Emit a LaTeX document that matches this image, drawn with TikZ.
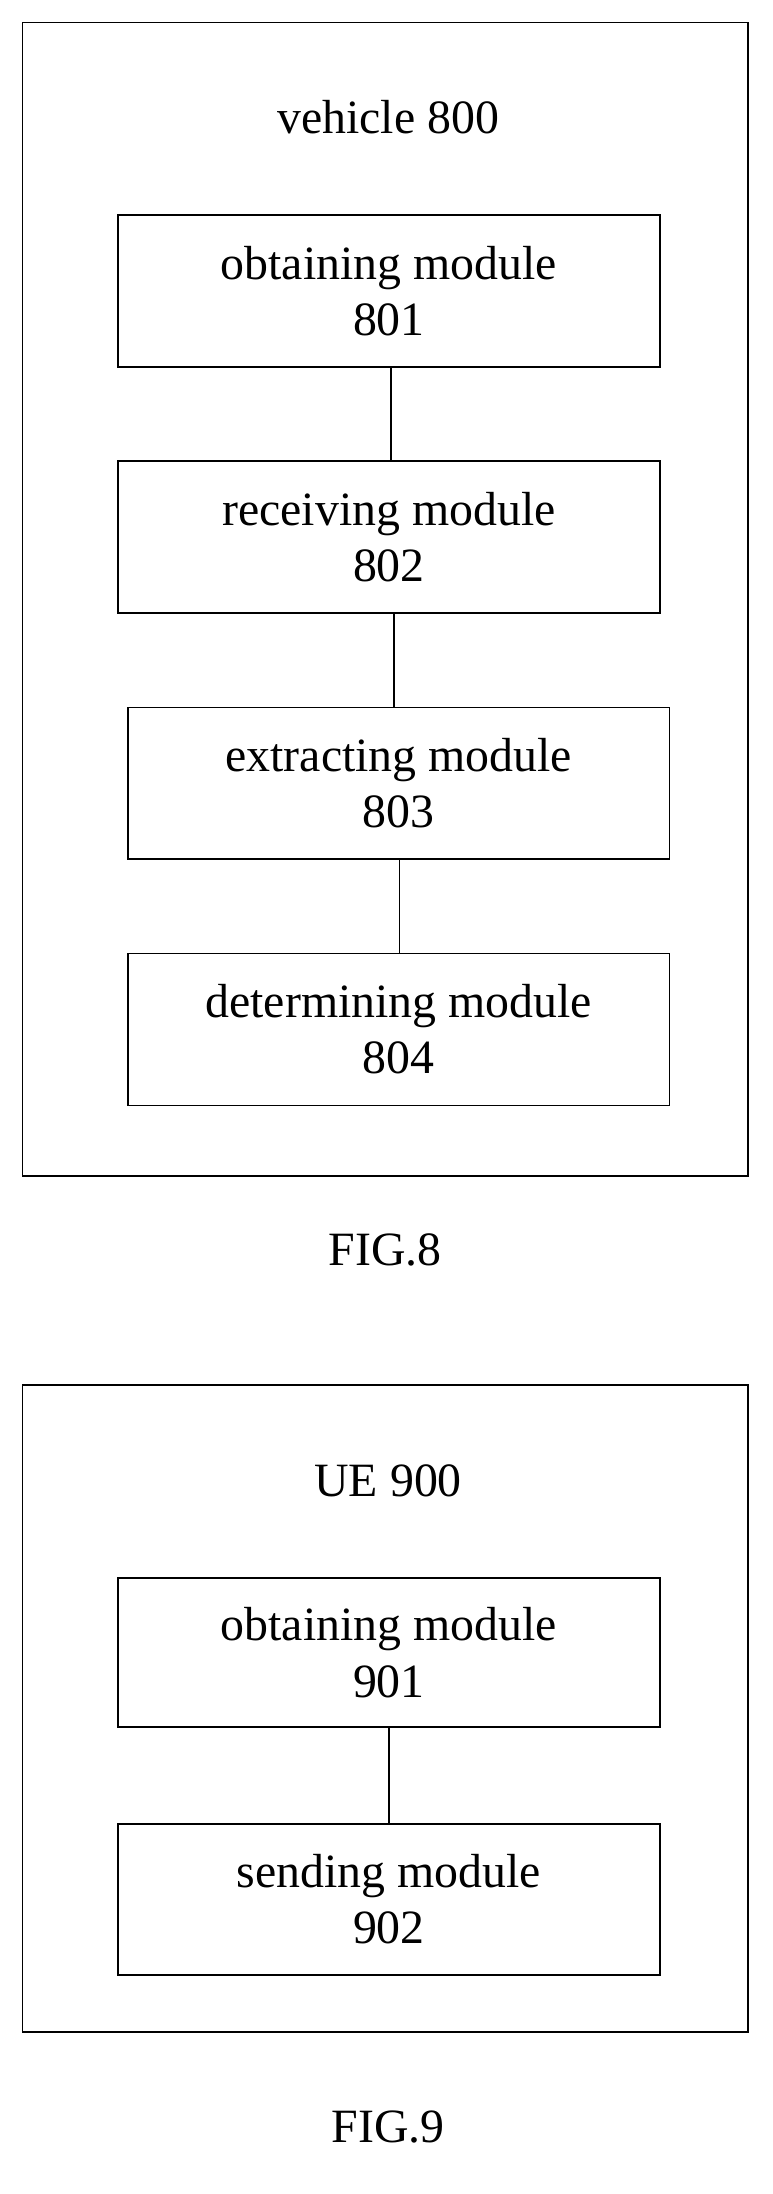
\documentclass[tikz,border=0pt]{standalone}
\usepackage{fontspec}
\setmainfont{Liberation Serif}
\begin{document}
\begin{tikzpicture}[x=1pt,y=-1pt,line width=1.3pt,
  mod/.style={draw,minimum width=385pt,minimum height=108pt,inner sep=0pt,align=center,font=\fontsize{34}{40}\selectfont},
  lbl/.style={font=\fontsize{34}{40}\selectfont}]
\useasboundingbox (0,0) rectangle (549,1560);
\draw (16,16) rectangle (532,836);
\node[lbl] (t8) at (276,83) {vehicle 800};
\node[mod] (a) at (276.5,207) {obtaining module\\801};
\node[mod] (b) at (276.5,382) {receiving module\\802};
\node[mod] (c) at (283.5,557) {extracting module\\803};
\node[mod] (d) at (283.5,732) {determining module\\804};
\draw (a.south -| 278,0) -- (b.north -| 278,0);
\draw (b.south -| 280,0) -- (c.north -| 280,0);
\draw (c.south -| 284,0) -- (d.north -| 284,0);
\node[lbl] (f8) at (274,889) {FIG.8};
\draw (16,985) rectangle (532,1445);
\node[lbl] (t9) at (276,1053) {UE 900};
\node[mod,minimum height=106pt] (e) at (276.5,1175) {obtaining module\\901};
\node[mod,minimum height=107pt] (f) at (276.5,1350.5) {sending module\\902};
\draw (e) -- (f);
\node[lbl] (f9) at (276,1512) {FIG.9};
\end{tikzpicture}
\end{document}
